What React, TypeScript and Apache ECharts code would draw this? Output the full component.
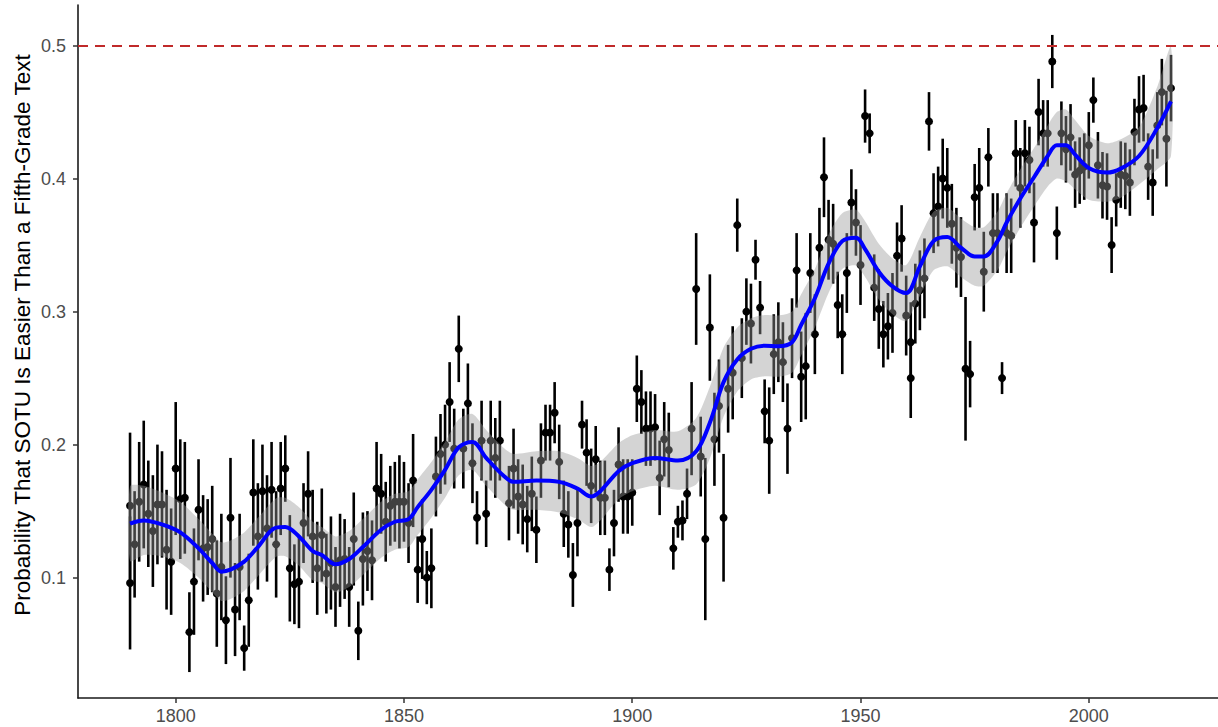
import React, { useEffect, useRef } from "react";
import * as echarts from "echarts";

// Point estimates (year, probability, half-width of interval)
const years = [
  1790, 1790, 1791, 1792, 1793, 1794, 1795, 1796, 1797, 1798, 1799, 1800, 1801, 1802, 1803, 1804, 1805, 1806, 1807, 1808, 1809,
  1810, 1811, 1812, 1813, 1814, 1815, 1816, 1817, 1818, 1819, 1820, 1821, 1822, 1823, 1824, 1825, 1826, 1827, 1828, 1829,
  1830, 1831, 1832, 1833, 1834, 1835, 1836, 1837, 1838, 1839, 1840, 1841, 1842, 1843, 1844, 1845, 1846, 1847, 1848, 1849,
  1850, 1851, 1852, 1853, 1854, 1855, 1856, 1857, 1858, 1859, 1860, 1861, 1862, 1863, 1864, 1865, 1866, 1867, 1868, 1869,
  1870, 1871, 1873, 1874, 1875, 1876, 1877, 1878, 1879, 1880, 1881, 1882, 1883, 1884, 1885, 1886, 1887, 1888, 1889,
  1890, 1891, 1892, 1893, 1894, 1895, 1896, 1897, 1898, 1899, 1900, 1901, 1902, 1903, 1904, 1905, 1906, 1907, 1908, 1909,
  1910, 1911, 1912, 1913, 1914, 1915, 1916, 1917, 1918, 1919, 1920, 1921, 1922, 1923, 1924, 1925, 1926, 1927, 1928, 1929,
  1930, 1931, 1932, 1933, 1934, 1935, 1936, 1937, 1938, 1939, 1940, 1941, 1942, 1943, 1944, 1945, 1946, 1947, 1948, 1949,
  1950, 1951, 1952, 1953, 1954, 1955, 1956, 1957, 1958, 1959, 1960, 1961, 1961, 1962, 1963, 1964, 1965, 1966, 1967, 1968, 1969,
  1970, 1971, 1972, 1973, 1974, 1975, 1976, 1977, 1978, 1979, 1980, 1981, 1982, 1983, 1984, 1985, 1986, 1987, 1988, 1989,
  1990, 1991, 1992, 1993, 1994, 1995, 1996, 1997, 1998, 1999, 2000, 2001, 2002, 2003, 2004, 2005, 2006, 2007, 2008, 2009,
  2010, 2011, 2012, 2013, 2014, 2015, 2016, 2017, 2018,
];
const probability = [
  0.154, 0.096, 0.125, 0.157, 0.17, 0.148, 0.135, 0.155, 0.155, 0.121, 0.112, 0.182, 0.159, 0.16, 0.059, 0.097, 0.151, 0.122, 0.123, 0.129, 0.088,
  0.108, 0.068, 0.145, 0.076, 0.108, 0.047, 0.083, 0.164, 0.131, 0.165, 0.137, 0.166, 0.125, 0.167, 0.182, 0.107, 0.095, 0.097, 0.141, 0.163,
  0.131, 0.107, 0.132, 0.103, 0.111, 0.093, 0.113, 0.114, 0.093, 0.129, 0.06, 0.114, 0.12, 0.113, 0.167, 0.163, 0.142, 0.154, 0.157, 0.157,
  0.157, 0.141, 0.173, 0.106, 0.129, 0.1, 0.107, 0.176, 0.193, 0.2, 0.232, 0.197, 0.272, 0.197, 0.231, 0.186, 0.145, 0.203, 0.148, 0.203,
  0.19, 0.203, 0.156, 0.182, 0.161, 0.155, 0.144, 0.163, 0.136, 0.188, 0.209, 0.209, 0.224, 0.187, 0.148, 0.14, 0.102, 0.141, 0.215,
  0.194, 0.169, 0.189, 0.16, 0.16, 0.106, 0.141, 0.185, 0.161, 0.161, 0.164, 0.242, 0.232, 0.212, 0.212, 0.213, 0.175, 0.204, 0.196, 0.122,
  0.142, 0.143, 0.163, 0.212, 0.317, 0.191, 0.129, 0.288, 0.204, 0.229, 0.145, 0.242, 0.254, 0.365, 0.265, 0.3, 0.291, 0.339, 0.303, 0.225,
  0.203, 0.268, 0.277, 0.262, 0.212, 0.28, 0.331, 0.251, 0.259, 0.329, 0.283, 0.348, 0.401, 0.354, 0.351, 0.305, 0.283, 0.329, 0.382, 0.367,
  0.335, 0.447, 0.434, 0.318, 0.302, 0.283, 0.289, 0.299, 0.342, 0.355, 0.297, 0.277, 0.25, 0.306, 0.316, 0.325, 0.443, 0.374, 0.379, 0.4, 0.393,
  0.366, 0.348, 0.341, 0.257, 0.253, 0.386, 0.393, 0.33, 0.416, 0.359, 0.359, 0.25, 0.359, 0.357, 0.419, 0.393, 0.419, 0.414, 0.367, 0.45,
  0.434, 0.434, 0.488, 0.359, 0.434, 0.422, 0.431, 0.403, 0.406, 0.409, 0.425, 0.459, 0.41, 0.395, 0.394, 0.35, 0.384, 0.403, 0.402, 0.397,
  0.435, 0.452, 0.453, 0.409, 0.397, 0.44, 0.465, 0.43, 0.468,
];
const halfWidth = [
  0.055, 0.05, 0.04, 0.045, 0.048, 0.04, 0.042, 0.045, 0.04, 0.045, 0.04, 0.05, 0.045, 0.042, 0.03, 0.04, 0.038, 0.04, 0.036, 0.04, 0.04,
  0.04, 0.033, 0.045, 0.035, 0.04, 0.017, 0.035, 0.04, 0.04, 0.035, 0.04, 0.036, 0.04, 0.035, 0.025, 0.04, 0.03, 0.035, 0.03, 0.032,
  0.035, 0.035, 0.035, 0.03, 0.035, 0.03, 0.035, 0.03, 0.03, 0.035, 0.022, 0.035, 0.03, 0.03, 0.035, 0.03, 0.03, 0.03, 0.03, 0.035,
  0.03, 0.03, 0.035, 0.025, 0.03, 0.02, 0.03, 0.03, 0.03, 0.03, 0.03, 0.03, 0.025, 0.03, 0.03, 0.03, 0.02, 0.03, 0.025, 0.03,
  0.03, 0.03, 0.028, 0.03, 0.028, 0.03, 0.025, 0.028, 0.025, 0.028, 0.021, 0.021, 0.023, 0.028, 0.025, 0.025, 0.024, 0.025, 0.018,
  0.025, 0.028, 0.025, 0.028, 0.028, 0.016, 0.025, 0.028, 0.028, 0.028, 0.025, 0.025, 0.024, 0.028, 0.028, 0.025, 0.028, 0.028, 0.028, 0.016,
  0.012, 0.015, 0.019, 0.035, 0.042, 0.03, 0.061, 0.04, 0.035, 0.035, 0.048, 0.033, 0.035, 0.02, 0.03, 0.025, 0.03, 0.015, 0.02, 0.024,
  0.04, 0.03, 0.03, 0.03, 0.034, 0.03, 0.028, 0.034, 0.04, 0.03, 0.03, 0.03, 0.03, 0.03, 0.03, 0.025, 0.03, 0.03, 0.025, 0.025,
  0.03, 0.02, 0.015, 0.025, 0.03, 0.025, 0.025, 0.03, 0.025, 0.025, 0.03, 0.03, 0.03, 0.03, 0.03, 0.03, 0.022, 0.03, 0.03, 0.03, 0.03,
  0.03, 0.03, 0.03, 0.054, 0.025, 0.025, 0.03, 0.03, 0.022, 0.03, 0.03, 0.012, 0.03, 0.028, 0.025, 0.03, 0.025, 0.025, 0.03, 0.025,
  0.025, 0.025, 0.02, 0.02, 0.024, 0.025, 0.025, 0.025, 0.025, 0.025, 0.025, 0.017, 0.025, 0.025, 0.025, 0.021, 0.02, 0.025, 0.025, 0.025,
  0.025, 0.025, 0.025, 0.025, 0.025, 0.025, 0.025, 0.036, 0.025,
];

// Smoothed trend and its standard-error band
const smoothYears = [
  1790, 1793, 1797, 1801, 1805, 1808, 1810, 1812, 1815, 1818, 1822, 1824, 1827, 1830, 1832, 1835, 1838, 1841, 1845, 1848,
  1851, 1853, 1856, 1859, 1862, 1865, 1868, 1872, 1874, 1879, 1884, 1888, 1891, 1893, 1897, 1900, 1905, 1910, 1914, 1917,
  1920, 1923, 1926, 1929, 1932, 1935, 1937, 1940, 1943, 1946, 1949, 1951, 1954, 1957, 1960, 1963, 1966, 1969, 1972, 1975,
  1977, 1980, 1982, 1985, 1988, 1991, 1993, 1995, 1997, 2000, 2004, 2007, 2011, 2015, 2018,
];
const smoothFit = [
  0.1406, 0.143, 0.14, 0.134, 0.122, 0.111, 0.1045, 0.106, 0.112, 0.123, 0.1376, 0.138, 0.131, 0.12, 0.117, 0.11, 0.114, 0.123, 0.136, 0.142,
  0.144, 0.153, 0.166, 0.181, 0.198, 0.202, 0.19, 0.176, 0.172, 0.173, 0.172, 0.167, 0.161, 0.165, 0.18, 0.186, 0.19, 0.188, 0.195, 0.2165,
  0.247, 0.264, 0.272, 0.2744, 0.274, 0.277, 0.29, 0.31, 0.336, 0.353, 0.3556, 0.347, 0.33, 0.319, 0.314, 0.334, 0.353, 0.356, 0.348, 0.3414,
  0.3414, 0.353, 0.367, 0.385, 0.401, 0.417, 0.425, 0.425, 0.418, 0.408, 0.4045, 0.4075, 0.417, 0.438, 0.458,
];
const smoothSe = [
  0.028, 0.026, 0.024, 0.023, 0.022, 0.022, 0.022, 0.022, 0.022, 0.022, 0.022, 0.022, 0.022, 0.022, 0.021, 0.021, 0.021, 0.021, 0.021, 0.021,
  0.021, 0.021, 0.021, 0.021, 0.021, 0.021, 0.021, 0.021, 0.021, 0.022, 0.023, 0.023, 0.023, 0.022, 0.021, 0.021, 0.021, 0.022, 0.025, 0.027,
  0.026, 0.024, 0.023, 0.023, 0.023, 0.023, 0.023, 0.022, 0.022, 0.021, 0.021, 0.021, 0.021, 0.021, 0.021, 0.022, 0.022, 0.022, 0.022, 0.022,
  0.022, 0.022, 0.022, 0.022, 0.022, 0.023, 0.025, 0.027, 0.026, 0.024, 0.022, 0.022, 0.0215, 0.031, 0.041,
];

const xTicks = [1800, 1850, 1900, 1950, 2000];
const yTicks = [0.1, 0.2, 0.3, 0.4, 0.5];
const referenceLevel = 0.5;
const yTitle = "Probability That SOTU Is Easier Than a Fifth-Grade Text";

const FONT = "'Liberation Sans', Arial, Helvetica, sans-serif";

export default function App() {
  const ref = useRef<HTMLDivElement>(null);

  useEffect(() => {
    if (!ref.current) return;
    const chart = echarts.init(ref.current, undefined, { renderer: "svg" });

    const pointData = years.map((y, i) => [y, probability[i], halfWidth[i]]);
    const lineData = smoothYears.map((y, i) => [y, smoothFit[i]]);

    chart.setOption({
      animation: false,
      backgroundColor: "#ffffff",
      grid: { left: 78, right: 0, top: 5, bottom: 29 },
      xAxis: {
        type: "value",
        min: 1778.6,
        max: 2028.3,
        splitLine: { show: false },
        axisLine: { show: true, onZero: false, lineStyle: { color: "#1a1a1a", width: 1.6 } },
        axisTick: { show: true, length: 5, customValues: xTicks, lineStyle: { color: "#333333", width: 1.5 } },
        axisLabel: {
          customValues: xTicks,
          margin: 9,
          color: "#4d4d4d",
          fontSize: 18,
          fontFamily: FONT,
          formatter: (v: number) => String(Math.round(v)),
        },
      },
      yAxis: {
        type: "value",
        min: 0.0095,
        max: 0.5305,
        splitLine: { show: false },
        axisLine: { show: true, onZero: false, lineStyle: { color: "#1a1a1a", width: 1.6 } },
        axisTick: { show: true, length: 5, customValues: yTicks, lineStyle: { color: "#333333", width: 1.5 } },
        axisLabel: {
          customValues: yTicks,
          margin: 12,
          color: "#4d4d4d",
          fontSize: 18,
          fontFamily: FONT,
          formatter: (v: number) => v.toFixed(1),
        },
      },
      graphic: [
        {
          type: "text",
          x: 22,
          y: 335,
          rotation: Math.PI / 2,
          style: {
            text: yTitle,
            fill: "#000000",
            fontSize: 22.5,
            fontFamily: FONT,
            textAlign: "center",
            textVerticalAlign: "middle",
          },
        },
      ],
      series: [
        {
          type: "custom",
          name: "points",
          z: 2,
          clip: true,
          data: pointData,
          encode: { x: 0, y: 1 },
          renderItem: (params: any, api: any) => {
            const x = api.value(0);
            const v = api.value(1);
            const e = api.value(2);
            const c = api.coord([x, v]);
            const t = api.coord([x, v + e]);
            const b = api.coord([x, v - e]);
            return {
              type: "group",
              children: [
                {
                  type: "line",
                  shape: { x1: t[0], y1: t[1], x2: b[0], y2: b[1] },
                  style: { stroke: "#000000", lineWidth: 2.6 },
                },
                {
                  type: "circle",
                  shape: { cx: c[0], cy: c[1], r: 4 },
                  style: { fill: "#000000" },
                },
              ],
            };
          },
        },
        {
          type: "custom",
          name: "band",
          z: 3,
          clip: true,
          data: [[smoothYears[0], smoothFit[0]]],
          encode: { x: 0, y: 1 },
          renderItem: (params: any, api: any) => {
            const upper = smoothYears.map((y, i) => api.coord([y, smoothFit[i] + smoothSe[i]]));
            const lower = smoothYears
              .map((y, i) => api.coord([y, smoothFit[i] - smoothSe[i]]))
              .reverse();
            return {
              type: "polygon",
              shape: { points: upper.concat(lower), smooth: 0.25 },
              style: { fill: "rgba(153,153,153,0.42)" },
            };
          },
        },
        {
          type: "line",
          name: "trend",
          z: 4,
          data: lineData,
          showSymbol: false,
          smooth: 0.35,
          lineStyle: { color: "#0000ff", width: 4 },
          markLine: {
            silent: true,
            symbol: "none",
            label: { show: false },
            lineStyle: { color: "#c02a2a", width: 1.8, type: [10, 7] },
            data: [{ yAxis: referenceLevel }],
          },
        },
      ],
    });

    return () => chart.dispose();
  }, []);

  return (
    <div
      ref={ref}
      style={{ position: "absolute", left: 0, top: 0, width: 1218, height: 727 }}
    />
  );
}
